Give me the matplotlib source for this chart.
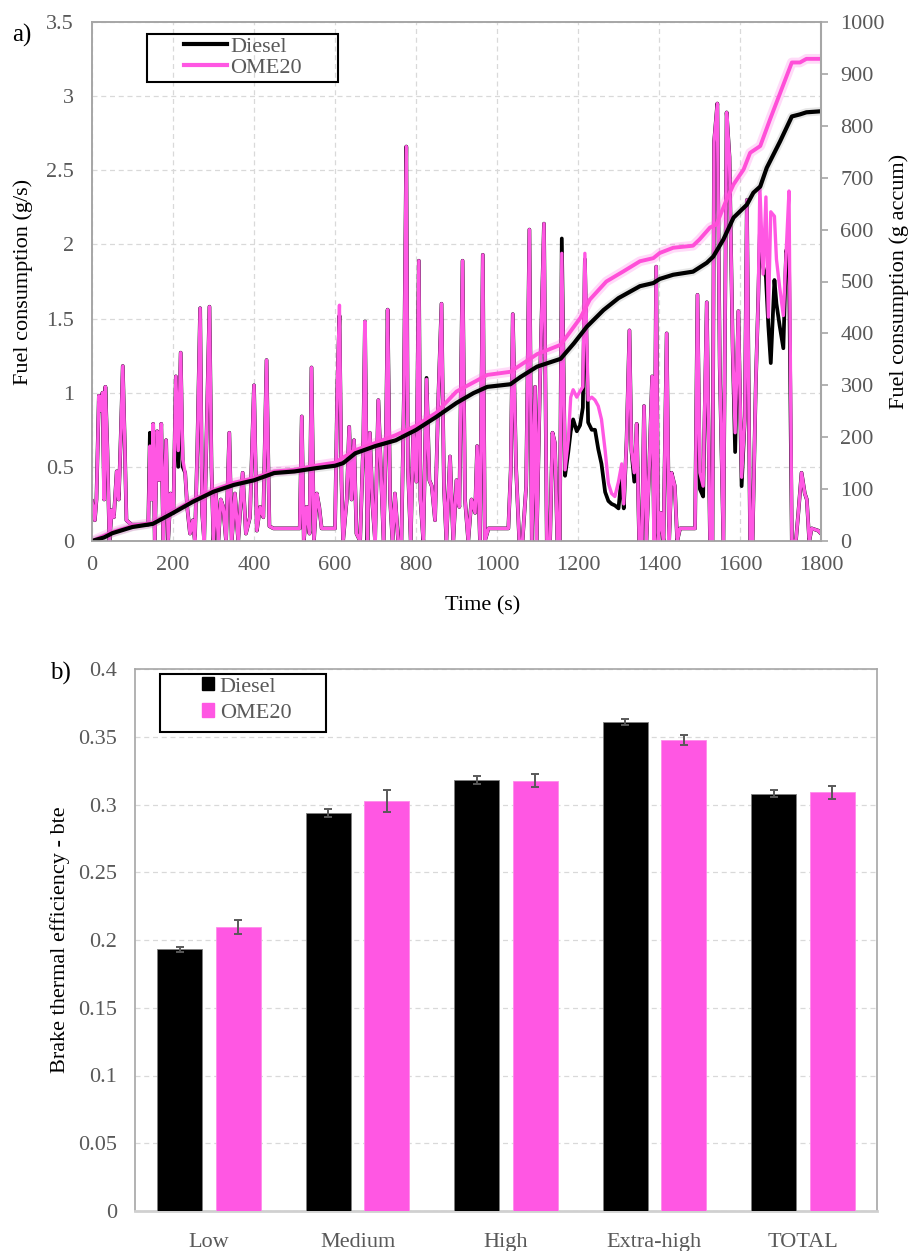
import matplotlib
matplotlib.use('Agg')
import matplotlib.pyplot as plt
from matplotlib.patches import Rectangle
from matplotlib.ticker import FuncFormatter, MultipleLocator
import numpy as np

plt.rcParams['font.family'] = ['Liberation Serif', 'DejaVu Serif']

# ---------------- data: panel a ----------------
time_inst = [0, 7, 11, 17, 22, 26, 30, 33, 38, 43, 49, 54, 61, 66, 71, 76, 81, 85, 98, 139,
             143, 147, 151, 155, 161, 166, 171, 176, 183, 188, 194, 201, 207, 213, 219, 224, 230, 235, 242, 249,
             254, 260, 267, 272, 277, 283, 290, 295, 300, 306, 312, 318, 324, 331, 339, 345, 353, 361, 372, 380,
             390, 400, 407, 415, 423, 431, 438, 448, 513, 518, 523, 530, 537, 542, 548, 555, 561, 567, 600, 606,
             611, 616, 620, 629, 635, 641, 647, 653, 662, 670, 674, 680, 686, 693, 699, 707, 713, 720, 726, 730,
             736, 742, 748, 756, 764, 770, 776, 780, 787, 793, 801, 807, 811, 818, 826, 833, 839, 847, 855, 863,
             869, 875, 884, 892, 900, 907, 915, 921, 929, 937, 946, 951, 958, 965, 970, 979, 1028, 1034, 1039, 1047,
             1055, 1063, 1072, 1080, 1086, 1094, 1098, 1106, 1116, 1123, 1131, 1137, 1143, 1149, 1155, 1160, 1168, 1176, 1182, 1188,
             1197, 1205, 1212, 1217, 1225, 1234, 1242, 1250, 1258, 1267, 1275, 1283, 1291, 1300, 1308, 1313, 1320, 1327, 1332, 1339,
             1345, 1351, 1358, 1363, 1369, 1376, 1383, 1388, 1393, 1398, 1404, 1411, 1419, 1425, 1431, 1439, 1445, 1452, 1489, 1495,
             1501, 1509, 1518, 1526, 1532, 1536, 1544, 1550, 1559, 1567, 1574, 1582, 1588, 1596, 1604, 1612, 1617, 1625, 1631, 1639,
             1645, 1649, 1657, 1664, 1670, 1676, 1685, 1690, 1698, 1707, 1714, 1721, 1728, 1738, 1744, 1752, 1760, 1765, 1771, 1777,
             1793, 1800]

rate_ome20 = [0.27, 0.14, 0.28, 0.98, 0.88, 1.00, 0.28, 1.04, 0.61, 0.00, 0.21, 0.16, 0.47, 0.28, 0.70, 1.18, 0.64, 0.14, 0.11, 0.11,
              0.64, 0.28, 0.79, 0.00, 0.74, 0.41, 0.79, 0.00, 0.68, 0.00, 0.32, 0.19, 1.11, 0.61, 1.27, 0.55, 0.46, 0.23, 0.05, 0.14,
              0.00, 0.61, 1.57, 0.19, 0.00, 0.73, 1.58, 0.50, 0.00, 0.32, 0.00, 0.28, 0.23, 0.00, 0.73, 0.00, 0.32, 0.00, 0.46, 0.05,
              0.16, 1.05, 0.07, 0.23, 0.16, 1.22, 0.10, 0.085, 0.085, 0.84, 0.00, 0.23, 0.05, 1.17, 0.00, 0.32, 0.23, 0.085, 0.085, 1.06,
              1.59, 0.41, 0.00, 0.28, 0.77, 0.28, 0.68, 0.05, 0.00, 0.68, 1.48, 0.00, 0.73, 0.23, 0.00, 0.95, 0.50, 0.00, 0.73, 1.56,
              0.28, 0.00, 0.32, 0.00, 0.00, 0.95, 2.66, 0.50, 0.00, 0.73, 0.40, 1.89, 0.28, 0.00, 1.09, 0.41, 0.37, 0.14, 0.95, 1.60,
              0.37, 0.00, 0.57, 0.00, 0.41, 0.23, 1.89, 0.28, 0.00, 0.28, 0.19, 0.64, 0.00, 1.93, 0.00, 0.085, 0.085, 0.48, 1.53, 0.50,
              0.00, 0.00, 0.37, 2.10, 0.00, 1.04, 0.00, 1.06, 2.14, 0.00, 0.00, 0.73, 0.66, 0.00, 0.00, 1.94, 0.48, 0.68, 0.97, 1.02,
              0.97, 1.01, 1.04, 1.94, 0.95, 0.97, 0.95, 0.91, 0.82, 0.61, 0.39, 0.32, 0.30, 0.40, 0.52, 0.25, 0.68, 1.42, 0.61, 0.46,
              0.79, 0.00, 0.00, 0.91, 0.00, 0.50, 1.11, 0.00, 1.85, 0.00, 0.19, 0.00, 1.40, 0.00, 0.46, 0.37, 0.00, 0.085, 0.085, 1.66,
              0.46, 0.37, 1.61, 0.00, 0.00, 2.69, 2.95, 1.18, 0.00, 2.89, 2.59, 1.29, 0.73, 1.55, 0.43, 0.84, 2.30, 0.00, 0.00, 1.06,
              1.63, 2.39, 1.80, 2.32, 1.51, 2.22, 2.19, 1.90, 1.71, 1.52, 1.95, 2.36, 0.00, 0.00, 0.19, 0.46, 0.32, 0.28, 0.00, 0.085,
              0.07, 0.05]

rate_diesel = [0.27, 0.14, 0.28, 0.98, 0.88, 1.00, 0.28, 1.04, 0.61, 0.00, 0.21, 0.16, 0.47, 0.28, 0.70, 1.18, 0.64, 0.14, 0.11, 0.11,
               0.73, 0.28, 0.79, 0.00, 0.74, 0.41, 0.79, 0.00, 0.68, 0.00, 0.32, 0.19, 1.11, 0.50, 1.27, 0.50, 0.46, 0.23, 0.05, 0.14,
               0.00, 0.61, 1.57, 0.19, 0.00, 0.73, 1.58, 0.50, 0.00, 0.32, 0.00, 0.28, 0.23, 0.00, 0.73, 0.00, 0.32, 0.00, 0.46, 0.05,
               0.16, 1.05, 0.07, 0.23, 0.16, 1.22, 0.10, 0.085, 0.085, 0.84, 0.00, 0.23, 0.05, 1.17, 0.00, 0.32, 0.23, 0.085, 0.085, 1.06,
               1.52, 0.41, 0.00, 0.28, 0.77, 0.28, 0.68, 0.05, 0.00, 0.68, 1.48, 0.00, 0.73, 0.23, 0.00, 0.95, 0.50, 0.00, 0.73, 1.56,
               0.28, 0.00, 0.32, 0.00, 0.00, 0.95, 2.66, 0.50, 0.00, 0.73, 0.40, 1.89, 0.28, 0.00, 1.10, 0.41, 0.37, 0.14, 0.95, 1.60,
               0.37, 0.00, 0.57, 0.00, 0.41, 0.23, 1.89, 0.28, 0.00, 0.28, 0.19, 0.64, 0.00, 1.93, 0.00, 0.085, 0.085, 0.48, 1.53, 0.50,
               0.00, 0.00, 0.37, 2.10, 0.00, 1.04, 0.00, 1.06, 2.14, 0.00, 0.00, 0.73, 0.66, 0.00, 0.00, 2.04, 0.44, 0.60, 0.74, 0.82,
               0.74, 0.78, 0.90, 1.90, 0.80, 0.75, 0.75, 0.62, 0.52, 0.33, 0.27, 0.25, 0.24, 0.22, 0.45, 0.22, 0.68, 1.42, 0.61, 0.40,
               0.79, 0.00, 0.00, 0.91, 0.00, 0.50, 1.11, 0.00, 1.85, 0.00, 0.19, 0.00, 1.40, 0.00, 0.46, 0.37, 0.00, 0.085, 0.085, 1.66,
               0.35, 0.30, 1.61, 0.00, 0.00, 2.69, 2.95, 1.18, 0.00, 2.89, 2.59, 1.29, 0.60, 1.55, 0.37, 0.84, 2.30, 0.00, 0.00, 1.06,
               1.63, 2.07, 1.85, 1.78, 1.45, 1.20, 1.76, 1.60, 1.45, 1.30, 1.96, 1.90, 0.00, 0.00, 0.19, 0.46, 0.32, 0.28, 0.00, 0.085,
               0.07, 0.05]

time_cum_diesel = [0, 30, 50, 100, 150, 200, 250, 300, 350, 400, 450, 500, 550, 600, 620, 650, 700, 750, 800, 850,
                   900, 942, 976, 1033, 1058, 1099, 1157, 1190, 1222, 1263, 1300, 1353, 1386, 1402, 1435, 1484, 1518, 1534, 1559, 1584,
                   1617, 1633, 1650, 1666, 1699, 1728, 1748, 1764, 1800]
cum_diesel = [0, 7, 15, 27, 33, 54, 76, 95, 108, 117, 131, 134, 140, 145, 150, 169, 183, 194, 214, 239,
              266, 285, 297, 302, 316, 336, 351, 381, 413, 445, 468, 491, 497, 505, 513, 519, 536, 548, 581, 623,
              648, 671, 683, 719, 770, 818, 822, 826, 828]

time_cum_ome20 = [0, 50, 100, 150, 200, 250, 300, 350, 400, 450, 500, 550, 600, 650, 700, 750, 800, 850, 900, 976,
                  1033, 1058, 1099, 1157, 1190, 1206, 1229, 1270, 1311, 1353, 1386, 1402, 1435, 1484, 1500, 1526, 1542, 1567, 1584, 1609,
                  1625, 1650, 1674, 1728, 1748, 1764, 1800]
cum_ome20 = [0, 17, 29, 35, 56, 79, 98, 112, 121, 134, 137, 145, 151, 175, 189, 204, 222, 247, 288, 320,
             326, 339, 360, 378, 413, 430, 465, 500, 519, 539, 545, 555, 565, 569, 581, 604, 610, 658, 687, 716,
             748, 761, 812, 922, 922, 929, 929]

# ---------------- data: panel b ----------------
categories = ['Low', 'Medium', 'High', 'Extra-high', 'TOTAL']
bte_diesel = [0.193, 0.294, 0.318, 0.361, 0.308]
bte_diesel_err = [0.002, 0.003, 0.0027, 0.002, 0.0024]
bte_ome20 = [0.2095, 0.3025, 0.3175, 0.3477, 0.309]
bte_ome20_err = [0.005, 0.008, 0.0047, 0.0035, 0.0047]

PINK = '#FF57E3'
BLACK = '#000000'
TICKC = '#595959'
SPINEC = '#A6A6A6'
GRIDC = '#D9D9D9'
FS = 16

W, H = 914, 1251
fig = plt.figure(figsize=(W / 100, H / 100), dpi=100)


def fx(px):
    return px / W


def fy(py):
    return 1 - py / H


# ================= panel a =================
ax1 = fig.add_axes([fx(92), fy(541), fx(821) - fx(92), fy(22) - fy(541)])
ax2 = ax1.twinx()

ax1.plot(time_inst, rate_diesel, color=BLACK, lw=2.7, zorder=3)
ax1.plot(time_inst, rate_ome20, color=PINK, lw=2.4, zorder=4)

ax2.plot(time_cum_ome20, cum_ome20, color=PINK, lw=7, alpha=0.22, solid_capstyle='butt')
ax2.plot(time_cum_diesel, cum_diesel, color='#7f7f7f', lw=6, alpha=0.18, solid_capstyle='butt')
ax2.plot(time_cum_ome20, cum_ome20, color='#FF4FD8', lw=2.8)
ax2.plot(time_cum_diesel, cum_diesel, color=BLACK, lw=3.0)

ax1.set_xlim(0, 1800)
ax1.set_ylim(0, 3.5)
ax2.set_ylim(0, 1000)
ax1.xaxis.set_major_locator(MultipleLocator(200))
ax1.yaxis.set_major_locator(MultipleLocator(0.5))
ax2.yaxis.set_major_locator(MultipleLocator(100))
fmt = FuncFormatter(lambda v, p: '%g' % v)
ax1.yaxis.set_major_formatter(fmt)

ax1.grid(True, color=GRIDC, ls=(0, (4, 3)), lw=0.9)
ax1.set_axisbelow(True)

for a in (ax1, ax2):
    for s in a.spines.values():
        s.set_color(SPINEC)
        s.set_linewidth(1.2)
ax2.spines['right'].set_linewidth(1.5)

ax1.tick_params(axis='both', length=0, labelsize=FS, labelcolor=TICKC)
ax1.tick_params(axis='x', pad=11)
ax1.tick_params(axis='y', pad=13)
ax2.tick_params(axis='y', length=5, width=1.2, color=SPINEC, direction='out',
                labelsize=FS, labelcolor=TICKC, pad=9)

ax1.set_ylabel('Fuel consumption (g/s)', fontsize=FS, color='black')
ax1.yaxis.set_label_coords((33 - 92) / 729, 0.5)
ax2.set_ylabel('Fuel consumption (g accum)', fontsize=FS, color='black', rotation=90)
ax2.yaxis.set_label_coords((889 - 92) / 729, 0.5)
ax1.set_xlabel('Time (s)', fontsize=FS, color='black')
ax1.xaxis.set_label_coords((483 - 92) / 729, (541 - 596) / 519)

fig.text(fx(12), fy(35), 'a)', fontsize=18, ha='left', va='center')

# legend a
fig.patches.append(Rectangle((fx(147), fy(82)), fx(338) - fx(147), fy(34) - fy(82),
                             transform=fig.transFigure, fill=False, ec='black', lw=1.5, zorder=10))
h1, = ax1.plot([], [], color=BLACK, lw=3.0)
h2, = ax1.plot([], [], color=PINK, lw=3.0)
leg1 = fig.legend([h1, h2], ['Diesel', 'OME20'], loc='upper left',
                  bbox_to_anchor=(fx(184), fy(36)), frameon=False, fontsize=FS,
                  handlelength=1.95, handletextpad=0.12, labelspacing=0.05,
                  borderpad=0, borderaxespad=0)
for t in leg1.get_texts():
    t.set_color(TICKC)

# ================= panel b =================
ax3 = fig.add_axes([fx(135), fy(1211), fx(877) - fx(135), fy(669) - fy(1211)])
x = np.arange(len(categories))
bw = 0.303
off = 0.197
ax3.bar(x - off, bte_diesel, bw, color=BLACK, edgecolor='#7f7f7f', lw=0.6, zorder=3)
ax3.bar(x + off, bte_ome20, bw, color=PINK, edgecolor='#FF8CEB', lw=0.6, zorder=3)
ax3.errorbar(x - off, bte_diesel, yerr=bte_diesel_err, fmt='none', ecolor=TICKC,
             elinewidth=1.4, capsize=3.2, capthick=1.4, zorder=4)
ax3.errorbar(x + off, bte_ome20, yerr=bte_ome20_err, fmt='none', ecolor=TICKC,
             elinewidth=1.4, capsize=3.2, capthick=1.4, zorder=4)

ax3.set_xlim(-0.5, len(categories) - 0.5)
ax3.set_ylim(0, 0.4)
ax3.yaxis.set_major_locator(MultipleLocator(0.05))
ax3.yaxis.set_major_formatter(fmt)
ax3.set_xticks(x)
ax3.set_xticklabels(categories)
ax3.grid(True, axis='y', color=GRIDC, ls=(0, (4, 3)), lw=0.9)
ax3.set_axisbelow(True)
for s in ax3.spines.values():
    s.set_color(SPINEC)
    s.set_linewidth(1.2)
ax3.spines['bottom'].set_color('#D0D0D0')
ax3.spines['bottom'].set_linewidth(2)
ax3.tick_params(axis='both', length=0, labelsize=FS, labelcolor=TICKC)
ax3.tick_params(axis='x', pad=16)
ax3.tick_params(axis='y', pad=13)
ax3.set_ylabel('Brake thermal efficiency - bte', fontsize=FS, color='black')
ax3.yaxis.set_label_coords((70 - 135) / 742, 0.5)

fig.text(fx(50), fy(673), 'b)', fontsize=18, ha='left', va='center')

fig.patches.append(Rectangle((fx(160), fy(732)), fx(326) - fx(160), fy(674) - fy(732),
                             transform=fig.transFigure, fill=False, ec='black', lw=1.5, zorder=10))
b1 = Rectangle((0, 0), 1, 1, color=BLACK)
b2 = Rectangle((0, 0), 1, 1, color=PINK)
leg2 = fig.legend([b1, b2], ['Diesel', 'OME20'], loc='upper left',
                  bbox_to_anchor=(fx(202), fy(677)), frameon=False, fontsize=FS,
                  handlelength=0.55, handleheight=0.55, handletextpad=0.25, labelspacing=0.3,
                  borderpad=0, borderaxespad=0)
for t in leg2.get_texts():
    t.set_color(TICKC)

fig.savefig('out.png', dpi=100)
